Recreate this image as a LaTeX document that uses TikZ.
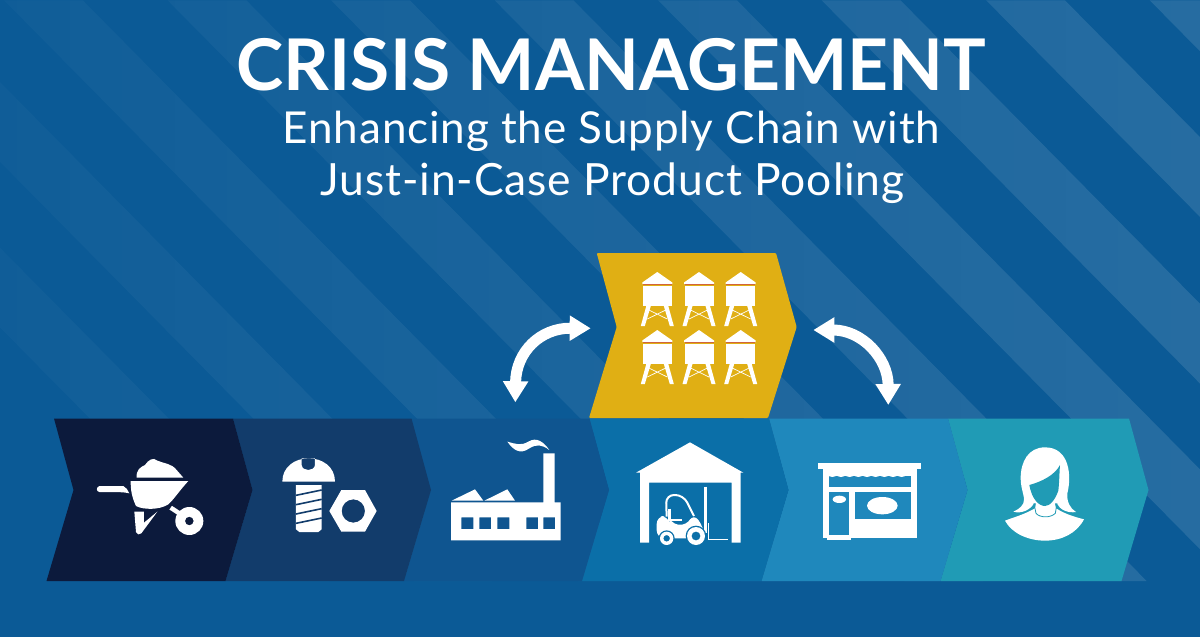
\documentclass[tikz,border=0pt]{standalone}
\usepackage{fontspec}
\setmainfont{Lato}
\newfontfamily\subfont[LetterSpace=2]{Lato}
\usetikzlibrary{arrows.meta,fadings}
\definecolor{bgblue}{HTML}{0B5A96}
\definecolor{stageA}{HTML}{0C1A3C}
\definecolor{stageB}{HTML}{123C6B}
\definecolor{stageC}{HTML}{0F5590}
\definecolor{stageD}{HTML}{0B6FA8}
\definecolor{stageE}{HTML}{1F88BC}
\definecolor{stageF}{HTML}{209BB5}
\definecolor{poolgold}{HTML}{E0AF14}
\definecolor{tankline}{HTML}{D2643C}
\tikzfading[name=stripefade, left color=transparent!100, middle color=transparent!93, right color=transparent!84]
\tikzset{
  tank/.pic={
    \fill[white] (0,0) -- (15,10.5) -- (15,12) -- (-15,12) -- (-15,10.5) -- cycle;
    \fill[white] (-14.5,13.7) rectangle (14.5,34);
    \fill[white] (-11,34) -- (-16.5,54) -- (-12.5,54) -- (-6.5,34) -- cycle;
    \fill[white] (11,34) -- (16.5,54) -- (12.5,54) -- (6.5,34) -- cycle;
    \draw[white, line width=.7pt] (-8.5,38) -- (10,47) (8.5,38) -- (-10,47);
    \draw[tankline, line width=.8pt] (-14.5,12.8) -- (14.5,12.8);
  }
}
\begin{document}
\begin{tikzpicture}[
    x=1pt, y=-1pt,
    stage/.style={fill=#1},
    icon/.style={shift={(#1,410)}, x=.33333pt, y=-.33333pt},
    twoway/.style={draw=white, line width=11pt, {Triangle[width=24pt,length=21pt]}-{Triangle[width=24pt,length=21pt]}},
    heading/.style={white, anchor=base, inner sep=0pt},
  ]
    \useasboundingbox (0,0) rectangle (1200,637);
    \fill[bgblue] (0,0) rectangle (1200,637);

    % Stripes
    \begin{scope}
      \clip (0,0) rectangle (1200,581);
      \fill[white, path fading=stripefade]
        \foreach \sx in {-320,-156,8,172,336,500,664,828,993,1157} {
          (\sx,0) -- (\sx+79,0) -- (\sx+79+575,581) -- (\sx+575,581) -- cycle
        };
    \end{scope}

    % Title
    \node[heading, font=\fontsize{71.3}{71}\selectfont\bfseries] (title) at (611.5,90) {CRISIS MANAGEMENT};
    \node[heading, font=\fontsize{44}{44}\subfont] (subA) at (611.5,143) {Enhancing the Supply Chain with};
    \node[heading, font=\fontsize{44.4}{44}\subfont] (subB) at (612.5,195) {Just-in-Case Product Pooling};

    % Chain
    \foreach \lx/\rx/\col in {948/1129/stageF,769/948/stageE,589.5/769/stageD,411.5/589.5/stageC,233/411.5/stageB,54/233/stageA} {
      \fill[stage=\col] (\lx,418.5) -- (\rx,418.5) -- (\rx+19.5,490) -- (\rx-7.5,581) -- (\lx-7.5,581) -- (\lx+19.5,490) -- cycle;
    }

    % Pool
    \fill[poolgold, rounded corners=1pt] (596.7,253) -- (776,253) -- (796.7,327) -- (768,418) -- (589,418) -- (616.7,327) -- cycle;
    \foreach \tx in {657.3,699,740.7} {
      \foreach \ty in {272,330} {
        \pic at (\tx,\ty) {tank};
      }
    }

    % Two-way arrows
    \coordinate (factorytop) at (515.3,402.3);
    \coordinate (poolin) at (590.7,328.3);
    \coordinate (poolout) at (813.3,330);
    \coordinate (shoptop) at (888.3,405);
    \draw[twoway] (factorytop) .. controls (516,352) and (540,328) .. (poolin);
    \draw[twoway] (poolout) .. controls (862,330) and (888,358) .. (shoptop);

    % Wheelbarrow
    \begin{scope}[icon=40]
      \fill[white] (290,203) .. controls (288,180) and (300,172) .. (315,165) .. controls (325,150) and (340,140) .. (352,152) .. controls (370,160) and (395,160) .. (410,180) -- (430,203) -- cycle;
      \fill[white] (272,213) -- (445,213) .. controls (420,240) and (400,270) .. (385,283) .. controls (360,300) and (310,300) .. (288,288) .. controls (275,260) and (272,240) .. (272,213) -- cycle;
      \fill[white] (178,228) -- (250,228) .. controls (258,232) and (264,240) .. (268,250) .. controls (255,246) and (230,246) .. (178,246) .. controls (168,244) and (168,232) .. (178,228) -- cycle;
      \fill[white] (283,305) -- (312,305) -- (312,338) -- (352,305) -- (304,370) .. controls (298,376) and (290,374) .. (288,366) -- cycle;
      \draw[white, line width=4.5pt] (392,293) -- (430,318);
      \fill[white, even odd rule] (448,333) circle[radius=42] (448,333) circle[radius=13];
    \end{scope}

    % Screw and nut
    \begin{scope}[icon=40]
      \fill[white, even odd rule] (727,215) .. controls (727,170) and (765,145) .. (806,145) .. controls (847,145) and (885,170) .. (885,215) -- cycle
        (785,145) -- (785,165) .. controls (787,185) and (823,185) .. (825,165) -- (825,145) -- cycle;
      \fill[white] (768,225) -- (845,225) -- (845,358) -- (835,366) -- (778,366) -- (768,358) -- cycle;
      \foreach \ty in {248,276,304,332} {
        \draw[stageB, line width=1.6pt] (768,\ty+8) -- (845,\ty-8);
      }
      \fill[white, even odd rule] (868,303) -- (904,240) -- (975,240) -- (1010,303) -- (975,365) -- (904,365) -- cycle (940,303) circle[radius=35];
    \end{scope}

    % Factory
    \begin{scope}[icon=430]
      \fill[white, even odd rule] (63,277) -- (340,277) -- (340,130) -- (374,130) -- (374,277) -- (392,277) -- (392,391) -- (63,391) -- cycle
        (94,322) rectangle (130,357) (148,322) rectangle (183,357) (202,322) rectangle (238,357) (289,322) rectangle (324,357) (340,322) rectangle (375,357);
      \fill[white] (65,272) -- (135,238) -- (160,272) -- cycle (163,272) -- (232,238) -- (255,272) -- cycle;
      \fill[white] (232,95) .. controls (258,102) and (272,108) .. (295,95) .. controls (320,80) and (340,95) .. (358,120) .. controls (335,103) and (320,102) .. (298,115) .. controls (270,135) and (250,120) .. (232,95) -- cycle;
    \end{scope}

    % Warehouse and forklift
    \begin{scope}[icon=430]
      \fill[white, even odd rule] (780,97) -- (940,188) -- (932,188) -- (932,398) -- (905,398) -- (905,218) -- (657,218) -- (657,398) -- (630,398) -- (630,188) -- (618,188) -- cycle;
      \fill[white, rounded corners=8pt] (680,318) -- (715,318) -- (720,340) -- (770,348) -- (790,310) -- (820,350) -- (825,385) -- (680,385) -- cycle;
      \draw[white, line width=2pt, rounded corners=8pt] (710,320) -- (708,255) -- (760,255) -- (792,318);
      \draw[white, line width=2.5pt] (719,296) -- (719,330) -- (755,330);
      \draw[white, line width=2.5pt] (826,230) -- (826,370);
      \draw[white, line width=1.2pt] (836,340) -- (836,388) -- (893,388);
      \foreach \wx/\wy/\wr in {710/385/20,798/378/27} {
        \fill[stageD] (\wx,\wy) circle[radius=\wr+4];
        \fill[white, even odd rule] (\wx,\wy) circle[radius=\wr] (\wx,\wy) circle[radius=\wr*.5];
      }
    \end{scope}

    % Shop
    \begin{scope}[icon=780]
      \fill[white] (115,160) rectangle (422,177);
      \fill[white] (128,177) rectangle (410,383);
      \fill[white] (140,375) rectangle (212,390);
      \fill[stageE] (147,198) rectangle (392,232);
      \foreach \wx in {157,183,209,235,261,287,313,339,365} {
        \fill[white] (\wx,193) ellipse[x radius=13.5, y radius=8];
      }
      \fill[stageE] (147,247) rectangle (208,375);
      \fill[stageE] (224,247) rectangle (392,327);
      \fill[white] (178,268) ellipse[x radius=20, y radius=11];
      \fill[white] (307,287) ellipse[x radius=46, y radius=26];
    \end{scope}

    % Customer
    \begin{scope}[icon=780]
      \fill[white] (675,332) .. controls (700,322) and (730,315) .. (765,295) -- (770,270) -- (822,270) -- (828,295) .. controls (860,315) and (890,322) .. (912,328) .. controls (890,370) and (845,392) .. (795,392) .. controls (745,392) and (695,370) .. (675,332) -- cycle;
      \fill[white] (795,112) .. controls (745,112) and (722,155) .. (722,205) .. controls (722,240) and (738,265) .. (730,280) .. controls (722,295) and (710,300) .. (700,305) .. controls (725,312) and (750,300) .. (762,280) -- (830,280) .. controls (840,300) and (865,310) .. (888,306) .. controls (870,295) and (860,275) .. (862,250) .. controls (875,200) and (870,112) .. (795,112) -- cycle;
      \fill[stageF] (748,225) .. controls (785,215) and (825,195) .. (840,165) .. controls (838,190) and (838,215) .. (835,242) .. controls (825,270) and (810,288) .. (795,288) .. controls (775,288) and (755,265) .. (748,225) -- cycle;
      \draw[stageF, line width=.8pt] (762,280) -- (768,310) .. controls (780,324) and (812,324) .. (826,310) -- (831,280);
    \end{scope}
  \end{tikzpicture}
\end{document}
